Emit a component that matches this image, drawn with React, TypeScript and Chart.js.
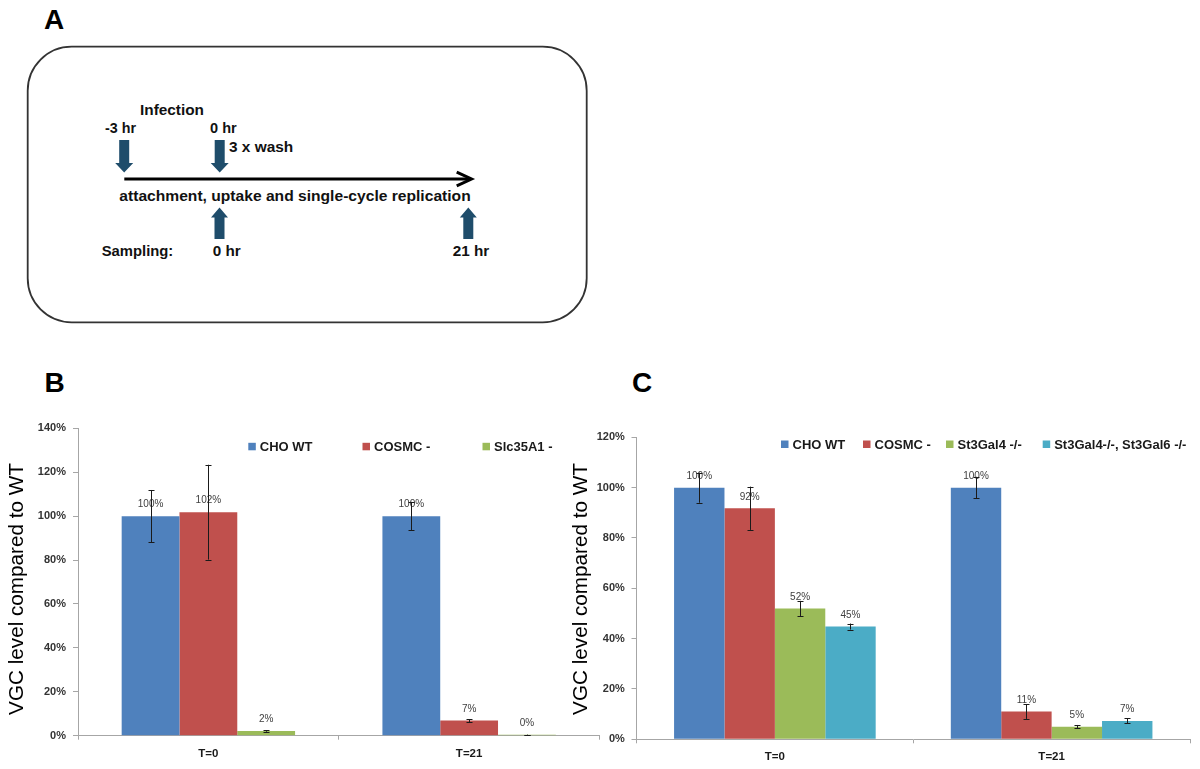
import React, { useEffect, useRef } from 'react';
import { Chart, registerables } from 'chart.js';

Chart.register(...registerables);

const FONT = '"Liberation Sans", Arial, Helvetica, sans-serif';

// ---------- Panel B data ----------
const categoriesB = ['T=0', 'T=21'];
const seriesNamesB = ['CHO WT', 'COSMC -', 'Slc35A1 -'];
const choWtB = [100, 100];
const cosmcB = [101.8, 6.9];
const slc35a1B = [2.1, 0.4];
const choWtErrB = [11.9, 6.5];
const cosmcErrB = [21.6, 0.7];
const slc35a1ErrB = [0.3, 0.1];
const yMaxB = 140;

// ---------- Panel C data ----------
const categoriesC = ['T=0', 'T=21'];
const seriesNamesC = ['CHO WT', 'COSMC -', 'St3Gal4 -/-', 'St3Gal4-/-, St3Gal6 -/-'];
const choWtC = [100, 100];
const cosmcC = [91.8, 11.0];
const st3gal4C = [52.0, 5.0];
const st3gal46C = [44.8, 7.3];
const choWtErrC = [6.0, 4.3];
const cosmcErrC = [8.6, 2.9];
const st3gal4ErrC = [3.0, 0.7];
const st3gal46ErrC = [1.2, 1.0];
const yMaxC = 120;

const yStep = 20;
const yTitle = 'VGC level compared to WT';
const COLORS = ['#4F81BD', '#C0504D', '#9BBB59', '#4BACC6'];
const AXIS = '#a6a6a6';
const ARROW = '#1f4d6b';

// ---------- plugins ----------
const barExtras = {
  id: 'barExtras',
  afterDatasetsDraw(chart: any, _a: any, opts: any) {
    const ctx = chart.ctx;
    const ys = chart.scales.y;
    chart.data.datasets.forEach((ds: any, di: number) => {
      const meta = chart.getDatasetMeta(di);
      meta.data.forEach((el: any, i: number) => {
        const v = ds.data[i];
        ctx.save();
        ctx.font = `${opts.labelSize}px ${FONT}`;
        ctx.fillStyle = '#404040';
        ctx.textAlign = 'center';
        ctx.textBaseline = 'middle';
        ctx.fillText(Math.round(v) + '%', el.x, el.y - opts.labelGap);
        const e = ds.errors[i];
        const yTop = ys.getPixelForValue(v + e);
        const yBot = ys.getPixelForValue(Math.max(0, v - e));
        const x = Math.round(el.x) + 0.5;
        ctx.strokeStyle = '#1a1a1a';
        ctx.lineWidth = 1;
        ctx.beginPath();
        ctx.moveTo(x, yTop);
        ctx.lineTo(x, yBot);
        ctx.moveTo(x - 3, Math.round(yTop) + 0.5);
        ctx.lineTo(x + 3, Math.round(yTop) + 0.5);
        ctx.moveTo(x - 3, Math.round(yBot) + 0.5);
        ctx.lineTo(x + 3, Math.round(yBot) + 0.5);
        ctx.stroke();
        ctx.restore();
      });
    });
  },
};

const placedLegend = {
  id: 'placedLegend',
  afterDraw(chart: any, _a: any, opts: any) {
    const ctx = chart.ctx;
    ctx.save();
    chart.data.datasets.forEach((ds: any, i: number) => {
      const x = opts.xs[i];
      ctx.fillStyle = ds.backgroundColor;
      ctx.fillRect(x, opts.y - 3.5, 7.5, 7.5);
      ctx.font = `bold 13px ${FONT}`;
      ctx.fillStyle = '#1a1a1a';
      ctx.textAlign = 'left';
      ctx.textBaseline = 'alphabetic';
      ctx.fillText(ds.label, x + 11.5, opts.y + 4.6);
    });
    ctx.restore();
  },
};

const sideTitle = {
  id: 'sideTitle',
  afterDraw(chart: any, _a: any, opts: any) {
    const ctx = chart.ctx;
    ctx.save();
    ctx.translate(opts.x, opts.y);
    ctx.rotate(-Math.PI / 2);
    ctx.font = `20.7px ${FONT}`;
    ctx.fillStyle = '#000';
    ctx.textAlign = 'center';
    ctx.textBaseline = 'alphabetic';
    ctx.fillText(opts.text, 0, 0);
    ctx.restore();
  },
};

type Spec = {
  categories: string[];
  names: string[];
  values: number[][];
  errors: number[][];
  yMax: number;
  groupPct: number;
  padTop: number;
  padRight: number;
  yAxisWidth: number;
  xAxisHeight: number;
  yTickPad: number;
  xTickPad: number;
  legendXs: number[];
  legendY: number;
  titleX: number;
  titleY: number;
};

function buildConfig(s: Spec): any {
  return {
    type: 'bar',
    data: {
      labels: s.categories,
      datasets: s.names.map((n, i) => ({
        label: n,
        data: s.values[i],
        errors: s.errors[i],
        backgroundColor: COLORS[i],
        borderWidth: 0,
        categoryPercentage: s.groupPct,
        barPercentage: 1,
      })),
    },
    plugins: [barExtras, placedLegend, sideTitle],
    options: {
      responsive: false,
      animation: false,
      devicePixelRatio: 1,
      layout: { padding: { top: s.padTop, right: s.padRight, left: 0, bottom: 0 } },
      plugins: {
        legend: { display: false },
        tooltip: { enabled: false },
        barExtras: { labelSize: 10, labelGap: 11.5 },
        placedLegend: { xs: s.legendXs, y: s.legendY },
        sideTitle: { x: s.titleX, y: s.titleY, text: yTitle },
      },
      scales: {
        x: {
          grid: { offset: true, drawOnChartArea: false, drawTicks: true, tickLength: 4, color: AXIS },
          border: { color: AXIS, width: 1 },
          ticks: { font: { family: FONT, size: 11.5, weight: 'bold' }, color: '#1a1a1a', padding: s.xTickPad },
          afterFit: (sc: any) => { sc.height = s.xAxisHeight; },
        },
        y: {
          min: 0,
          max: s.yMax,
          grid: { drawOnChartArea: false, drawTicks: true, tickLength: 5, color: AXIS },
          border: { color: AXIS, width: 1 },
          ticks: {
            stepSize: yStep,
            callback: (v: any) => v + '%',
            font: { family: FONT, size: 11, weight: 'bold' },
            color: '#333333',
            padding: s.yTickPad,
          },
          afterFit: (sc: any) => { sc.width = s.yAxisWidth; },
        },
      },
    },
  };
}

const specB: Spec = {
  categories: categoriesB,
  names: seriesNamesB,
  values: [choWtB, cosmcB, slc35a1B],
  errors: [choWtErrB, cosmcErrB, slc35a1ErrB],
  yMax: yMaxB,
  groupPct: 0.665,
  padTop: 68.3,
  padRight: 5.5,
  yAxisWidth: 78,
  xAxisHeight: 33.3,
  yTickPad: 7,
  xTickPad: 7,
  legendXs: [248.3, 362.5, 482.5],
  legendY: 86.3,
  titleX: 23.3,
  titleY: 229,
};

const specC: Spec = {
  categories: categoriesC,
  names: seriesNamesC,
  values: [choWtC, cosmcC, st3gal4C, st3gal46C],
  errors: [choWtErrC, cosmcErrC, st3gal4ErrC, st3gal46ErrC],
  yMax: yMaxC,
  groupPct: 0.7285,
  padTop: 77.3,
  padRight: 10,
  yAxisWidth: 76.5,
  xAxisHeight: 29.7,
  yTickPad: 6.7,
  xTickPad: 6.5,
  legendXs: [221, 303, 386, 482.7],
  legendY: 84,
  titleX: 26.7,
  titleY: 229,
};

function ChartPanel({ spec, left, top, width, height }: { spec: Spec; left: number; top: number; width: number; height: number }) {
  const ref = useRef<HTMLCanvasElement>(null);
  useEffect(() => {
    const chart = new Chart(ref.current as HTMLCanvasElement, buildConfig(spec));
    return () => chart.destroy();
  }, [spec]);
  return (
    <canvas
      ref={ref}
      width={width}
      height={height}
      style={{ position: 'absolute', left, top, width, height }}
    />
  );
}

// ---------- Panel A (schematic) ----------
const schemeTexts = [
  { t: 'Infection', x: 140, y: 115, w: 64 },
  { t: '-3 hr', x: 105, y: 133.3, w: 31 },
  { t: '0 hr', x: 210, y: 133.3, w: 26.7 },
  { t: '3 x wash', x: 229, y: 152.3, w: 64.3 },
  { t: 'attachment, uptake and single-cycle replication', x: 119.3, y: 200.8, w: 351.4 },
  { t: 'Sampling:', x: 101.7, y: 255.7, w: 71.6 },
  { t: '0 hr', x: 212.7, y: 256, w: 28 },
  { t: '21 hr', x: 452.7, y: 256, w: 36.6 },
];

function downArrow(cx: number, top: number, headStart: number, tip: number) {
  return `${cx - 5},${top} ${cx + 5},${top} ${cx + 5},${headStart} ${cx + 9},${headStart} ${cx},${tip} ${cx - 9},${headStart} ${cx - 5},${headStart}`;
}
function upArrow(cx: number, tip: number, headEnd: number, bottom: number) {
  return `${cx},${tip} ${cx + 8.5},${headEnd} ${cx + 5},${headEnd} ${cx + 5},${bottom} ${cx - 5},${bottom} ${cx - 5},${headEnd} ${cx - 8.5},${headEnd}`;
}

function PanelA() {
  return (
    <svg width={600} height={340} style={{ position: 'absolute', left: 0, top: 0 }}>
      <rect x={27.7} y={46.7} width={559} height={275.6} rx={44} ry={44} fill="none" stroke="#333" strokeWidth={1.8} />
      {schemeTexts.map((d, i) => (
        <text
          key={i}
          x={d.x}
          y={d.y}
          textLength={d.w}
          lengthAdjust="spacingAndGlyphs"
          fontFamily={FONT}
          fontWeight="bold"
          fontSize={15.5}
          fill="#111"
        >
          {d.t}
        </text>
      ))}
      <line x1={124.3} y1={179} x2={470} y2={179} stroke="#000" strokeWidth={3} />
      <polyline points="456.7,172.2 471.5,179 456.7,185.8" fill="none" stroke="#000" strokeWidth={3} />
      <polygon points={downArrow(124.2, 140, 163, 172.5)} fill={ARROW} />
      <polygon points={downArrow(219.7, 140, 163, 172.5)} fill={ARROW} />
      <polygon points={upArrow(219.5, 207.5, 217.5, 239)} fill={ARROW} />
      <polygon points={upArrow(468.3, 207.5, 217.5, 239)} fill={ARROW} />
    </svg>
  );
}

const panelLetterStyle: React.CSSProperties = {
  position: 'absolute',
  fontFamily: FONT,
  fontWeight: 'bold',
  fontSize: 28,
  lineHeight: '28px',
  color: '#000',
  margin: 0,
};

export default function App() {
  return (
    <div style={{ position: 'absolute', left: 0, top: 0, width: 1200, height: 769, background: '#fff', overflow: 'hidden' }}>
      <PanelA />
      <div style={{ ...panelLetterStyle, left: 44, top: 6 }}>A</div>
      <div style={{ ...panelLetterStyle, left: 44.4, top: 369 }}>B</div>
      <div style={{ ...panelLetterStyle, left: 632, top: 369 }}>C</div>
      <ChartPanel spec={specB} left={0} top={360} width={605} height={409} />
      <ChartPanel spec={specC} left={560} top={360} width={640} height={409} />
    </div>
  );
}
